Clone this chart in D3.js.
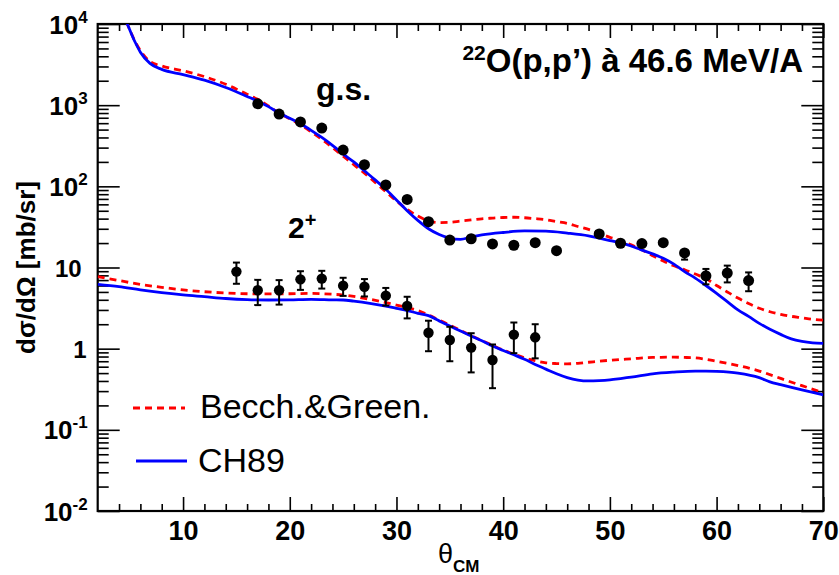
<!DOCTYPE html>
<html>
<head>
<meta charset="utf-8">
<script src="https://cdn.jsdelivr.net/npm/d3@7"></script>
<style>
html,body{margin:0;padding:0;background:#fff;}
svg{display:block;}
text{font-family:"Liberation Sans",Arial,Helvetica,sans-serif;}
</style>
</head>
<body>
<svg id="chart" width="839" height="575"></svg>
<script>
// ---------- data ----------
const xTickValues = [10, 20, 30, 40, 50, 60, 70];
const yTickValues = [1e-2, 1e-1, 1, 10, 1e2, 1e3, 1e4];
const yTickLabels = [["10", "-2"], ["10", "-1"], ["1", ""], ["10", ""], ["10", "2"], ["10", "3"], ["10", "4"]];

// measured ground state (g.s.)
const thetaGS = [17,19,21,23,25,27,29,31,33,35,37,39,41,43,45,49,51,53,55,57,59,61,63];
const sigmaGS = [1040,778,621,523,280,185,104,69,36.7,21.8,22.6,19.5,18.8,20.2,16.1,25.9,19.9,19.7,20.2,15.1,7.9,8.55,6.9];
const errGS   = [20,15,12,10,6,4,2,1.5,0.8,0.6,0.6,0.5,0.5,0.6,0.5,1.2,1.2,1.4,1.5,2.6,1.7,2.0,1.8];

// measured 2+ state
const theta2p = [15,17,19,21,23,25,27,29,31,33,35,37,39,41,43];
const sigma2p = [8.9,5.24,5.24,7.15,7.3,5.97,5.8,4.5,3.36,1.57,1.28,1.03,0.726,1.49,1.38];
const err2p   = [2.6,1.8,1.75,1.85,1.8,1.5,1.4,1.1,1.0,0.64,0.58,0.52,0.40,0.61,0.62];

// CH89 calculation, g.s.
const thetaCHgs = [4.2,4.77,5.5,6.0,6.9,8.0,10,12,14,16,17,18,19,20,21,22,23,24,25,26,27,28,29,30,31,32,33,34,35,36,37,38,40,42,44,46,48,49,50,51,53,54,55,56,57,58,59,60,61,62,63,64,65,66,67,68,69,70];
const sigmaCHgs = [14500,10000,6000,4500,3270,2760,2380,2030,1650,1280,1120,960,800,690,590,490,400,320,250,200,155,120,92,68,50,38,30,25.5,23,22.2,23.8,25.2,27,28.2,28,26.5,24.5,23,21.5,20.2,16.4,14.7,13,11,8.9,7.4,6.0,4.8,3.8,3.0,2.5,2.05,1.73,1.5,1.32,1.23,1.18,1.16];

// Becchetti & Greenlees calculation, g.s.
const thetaBGgs = [4.2,4.77,5.5,6.0,6.9,8.0,10,12,14,16,17,18,19,20,21,22,23,24,25,26,27,28,29,30,31,32,33,34,35,36,37,38,39,40,41,42,43,44,45,46,47,48,49,50,51,52,53,54,55,56,57,58,59,60,61,62,63,64,65,66,67,68,69,70];
const sigmaBGgs = [14500,10000,6100,4700,3450,3040,2650,2250,1810,1360,1180,980,800,680,575,470,380,300,235,185,145,112,86,66,52,43,37.5,35.8,36,37.3,38.5,39.8,40.6,41.3,41.6,41,40,38.8,36.8,35,32,29.5,26.5,23.5,21.5,19,16.5,14,12,10.5,9.4,8.3,7.3,6.0,5.0,4.2,3.6,3.15,2.85,2.65,2.5,2.4,2.3,2.25];

// CH89 calculation, 2+
const thetaCH2p = [2,4,6,8,10,12,14,16,18,20,22,24,25,26,27.5,29,30,31,32,33,34,35,36,37,38,39,40,41,42,43,44,45,46,47,48,49,50,51,52,54,56,58,59,60,62,64,65,66,68,70];
const sigmaCH2p = [6.2,5.8,5.3,4.9,4.6,4.37,4.15,4.02,3.98,4.0,4.06,4.0,3.98,3.85,3.62,3.35,3.14,2.95,2.73,2.55,2.2,1.9,1.65,1.43,1.25,1.08,0.95,0.84,0.74,0.64,0.56,0.49,0.44,0.41,0.40,0.404,0.413,0.428,0.445,0.49,0.515,0.53,0.53,0.525,0.50,0.44,0.39,0.36,0.31,0.27];

// Becchetti & Greenlees calculation, 2+
const thetaBG2p = [2,4,6,8,10,12,14,16,18,20,22,24,25,26,27.5,29,30,31,32,33,34,35,36,37,38,39,40,41,42,43,44,45,46,47,48,50,52,54,56,57,58,60,62,64,66,68,70];
const sigmaBG2p = [7.7,6.9,6.2,5.7,5.3,5.03,4.85,4.75,4.72,4.75,4.79,4.68,4.58,4.4,4.06,3.7,3.45,3.2,2.95,2.6,2.25,1.95,1.68,1.45,1.26,1.1,0.96,0.86,0.77,0.71,0.67,0.655,0.65,0.66,0.68,0.72,0.75,0.78,0.785,0.78,0.77,0.70,0.62,0.53,0.43,0.35,0.287];

const legendLabels = ["Becch.&Green.", "CH89"];

// ---------- layout ----------
const svg = d3.select("#chart");
const L = 97.7, R = 823.3, T = 24, B = 511;
const x = d3.scaleLinear().domain([2, 70]).range([L, R]);
const y = d3.scaleLog().domain([1e-2, 1e4]).range([B, T]);

const RED = "#ff0000", BLUE = "#0000ff";

svg.append("defs").append("clipPath").attr("id", "plotclip")
  .append("rect").attr("x", L).attr("y", T).attr("width", R - L).attr("height", B - T);

// minor tick values
const xMinor = d3.range(4, 70, 2).filter(v => v % 10 !== 0);
const yMinor = [];
for (let e = -2; e < 4; e++) for (let m = 2; m <= 9; m++) yMinor.push(m * Math.pow(10, e));

function styleAxis(g) {
  g.select(".domain").remove();
  g.selectAll("line").attr("stroke", "#000").attr("stroke-width", 1.6);
}

// bottom axis
svg.append("g").attr("transform", `translate(0,${B})`)
  .call(d3.axisBottom(x).tickValues(xTickValues).tickSizeInner(-14).tickSizeOuter(0).tickPadding(10).tickFormat(d3.format("d")))
  .call(styleAxis)
  .call(g => g.selectAll("text").attr("font-size", 27).attr("font-weight", "bold").attr("fill", "#000")
    .attr("font-family", "'Liberation Sans',Arial,sans-serif"));
svg.append("g").attr("transform", `translate(0,${B})`)
  .call(d3.axisBottom(x).tickValues(xMinor).tickSizeInner(-7).tickSizeOuter(0).tickFormat(""))
  .call(styleAxis);
// top axis
svg.append("g").attr("transform", `translate(0,${T})`)
  .call(d3.axisTop(x).tickValues(xTickValues).tickSizeInner(-14).tickSizeOuter(0).tickFormat(""))
  .call(styleAxis);
svg.append("g").attr("transform", `translate(0,${T})`)
  .call(d3.axisTop(x).tickValues(xMinor).tickSizeInner(-7).tickSizeOuter(0).tickFormat(""))
  .call(styleAxis);
// left axis
const leftAxis = svg.append("g").attr("transform", `translate(${L},0)`)
  .call(d3.axisLeft(y).tickValues(yTickValues).tickSizeInner(-22).tickSizeOuter(0).tickFormat(""))
  .call(styleAxis);
svg.append("g").attr("transform", `translate(${L},0)`)
  .call(d3.axisLeft(y).tickValues(yMinor).tickSizeInner(-11).tickSizeOuter(0).tickFormat(""))
  .call(styleAxis);
// right axis
svg.append("g").attr("transform", `translate(${R},0)`)
  .call(d3.axisRight(y).tickValues(yTickValues).tickSizeInner(-22).tickSizeOuter(0).tickFormat(""))
  .call(styleAxis);
svg.append("g").attr("transform", `translate(${R},0)`)
  .call(d3.axisRight(y).tickValues(yMinor).tickSizeInner(-11).tickSizeOuter(0).tickFormat(""))
  .call(styleAxis);

// y tick labels (10^n style)
leftAxis.selectAll(".tick").each(function(d, i) {
  const lab = yTickLabels[i];
  const t = d3.select(this).select("text");
  t.text(null).attr("x", lab[1] ? -10 : (lab[0] === "10" ? -16 : -11)).attr("dy", null).attr("y", 9)
    .attr("text-anchor", "end").attr("font-weight", "bold").attr("fill", "#000")
    .attr("font-family", "'Liberation Sans',Arial,sans-serif")
    .attr("font-size", lab[1] ? 26 : 24);
  t.append("tspan").text(lab[0]);
  if (lab[1]) t.append("tspan").attr("dy", -11).attr("font-size", 17).text(lab[1]);
});

// frame
svg.append("rect").attr("x", L).attr("y", T).attr("width", R - L).attr("height", B - T)
  .attr("fill", "none").attr("stroke", "#000").attr("stroke-width", 2.2);

// curves
const line = d3.line().x(d => x(d[0])).y(d => y(d[1])).curve(d3.curveMonotoneX);
const plot = svg.append("g").attr("clip-path", "url(#plotclip)");
function drawCurve(th, s, color, dashed) {
  plot.append("path").datum(d3.zip(th, s)).attr("d", line)
    .attr("fill", "none").attr("stroke", color).attr("stroke-width", 2.8)
    .attr("stroke-dasharray", dashed ? "7,5" : null);
}
drawCurve(thetaBGgs, sigmaBGgs, RED, true);
drawCurve(thetaBG2p, sigmaBG2p, RED, true);
drawCurve(thetaCHgs, sigmaCHgs, BLUE, false);
drawCurve(thetaCH2p, sigmaCH2p, BLUE, false);

// data points with error bars
function drawPoints(th, s, e, r) {
  const g = svg.append("g");
  th.forEach((t, i) => {
    const cx = x(t), cy = y(s[i]);
    const yTop = y(s[i] + e[i]), yBot = y(Math.max(s[i] - e[i], 1e-3));
    if (cy - yTop > r + 1) {
      g.append("line").attr("x1", cx).attr("x2", cx).attr("y1", yTop).attr("y2", cy).attr("stroke", "#000").attr("stroke-width", 2);
      g.append("line").attr("x1", cx - 3.5).attr("x2", cx + 3.5).attr("y1", yTop).attr("y2", yTop).attr("stroke", "#000").attr("stroke-width", 2);
    }
    if (yBot - cy > r + 1) {
      g.append("line").attr("x1", cx).attr("x2", cx).attr("y1", cy).attr("y2", yBot).attr("stroke", "#000").attr("stroke-width", 2);
      g.append("line").attr("x1", cx - 3.5).attr("x2", cx + 3.5).attr("y1", yBot).attr("y2", yBot).attr("stroke", "#000").attr("stroke-width", 2);
    }
    g.append("circle").attr("cx", cx).attr("cy", cy).attr("r", r).attr("fill", "#000");
  });
}
drawPoints(thetaGS, sigmaGS, errGS, 5.5);
drawPoints(theta2p, sigma2p, err2p, 5.2);

// texts
const title = svg.append("text").attr("x", 803).attr("y", 72).attr("text-anchor", "end")
  .attr("font-size", 33).attr("font-weight", "bold").attr("fill", "#000");
title.append("tspan").attr("font-size", 21).attr("dy", -12).text("22");
title.append("tspan").attr("dy", 12).text("O(p,p\u2019) à 46.6 MeV/A");

svg.append("text").attr("x", 316).attr("y", 100).attr("font-size", 32).attr("font-weight", "bold").text("g.s.");
const t2 = svg.append("text").attr("x", 288).attr("y", 238).attr("font-size", 30).attr("font-weight", "bold");
t2.append("tspan").text("2");
t2.append("tspan").attr("dy", -11).attr("font-size", 20).text("+");

// axis titles
svg.append("text").attr("transform", `translate(35,${(T + B) / 2}) rotate(-90)`)
  .attr("text-anchor", "middle").attr("font-size", 26).attr("font-weight", "bold").text("dσ/dΩ [mb/sr]");
const xt = svg.append("text").attr("x", 438).attr("y", 563).attr("font-size", 27);
xt.append("tspan").text("θ");
xt.append("tspan").attr("dy", 9).attr("font-size", 17).attr("font-weight", "bold").text("CM");

// legend
const leg = svg.append("g");
leg.append("line").attr("x1", 133).attr("x2", 185).attr("y1", 408).attr("y2", 408)
  .attr("stroke", RED).attr("stroke-width", 2.8).attr("stroke-dasharray", "7,5");
leg.append("line").attr("x1", 136).attr("x2", 187).attr("y1", 461).attr("y2", 461)
  .attr("stroke", BLUE).attr("stroke-width", 2.8);
leg.append("text").attr("x", 200).attr("y", 418).attr("font-size", 34).text(legendLabels[0]);
leg.append("text").attr("x", 198).attr("y", 472).attr("font-size", 34).text(legendLabels[1]);
</script>
</body>
</html>
